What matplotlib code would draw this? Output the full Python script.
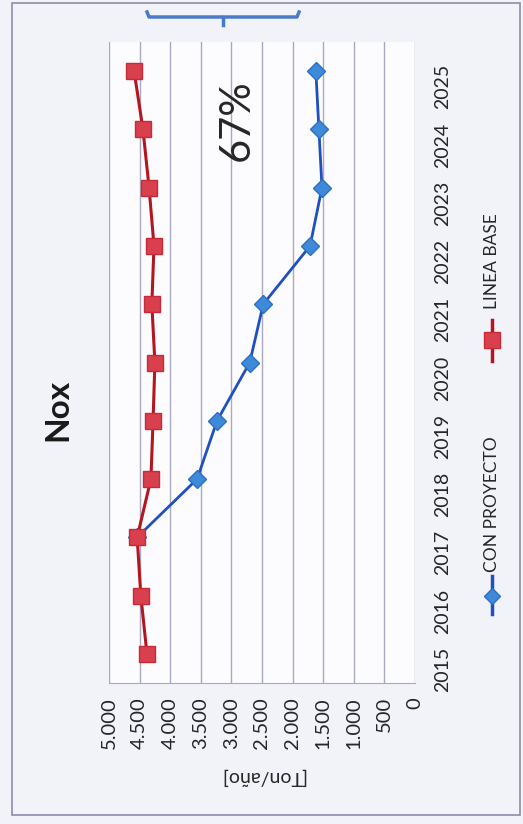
"""
Nox emissions chart (rotated layout): CON PROYECTO vs LINEA BASE
"""

from matplotlib import pyplot as plt
from matplotlib.lines import Line2D
from matplotlib.patches import Rectangle
from matplotlib.ticker import FuncFormatter, MultipleLocator
import numpy as np

plt.rcParams['font.family'] = ['Lato', 'DejaVu Sans']

years = [2015, 2016, 2017, 2018, 2019, 2020, 2021, 2022, 2023, 2024, 2025]
con_proyecto = [np.nan, np.nan, 4540, 3560, 3235, 2700, 2480, 1715, 1520, 1570, 1620]
linea_base = [4380, 4480, 4540, 4315, 4280, 4250, 4300, 4265, 4345, 4445, 4590]
reduccion = '67%'

W, H = 523, 824
fig = plt.figure(figsize=(W / 100, H / 100), dpi=100, facecolor='#f2f3f9')

# chart is drawn turned on its side: values run right-to-left, years bottom-to-top
ax = fig.add_axes([109 / W, 141 / H, 306 / W, 641 / H], facecolor='#fcfcfe')
idx = np.arange(len(years))

ax.plot(linea_base, idx, color='#b3161f', lw=2.2, marker='s', markersize=12,
        markerfacecolor='#d8404e', markeredgecolor='#c82a38', label='LINEA BASE', zorder=3)
ax.plot(con_proyecto, idx, color='#1f4fc0', lw=2, marker='D', markersize=9,
        markerfacecolor='#3c8ad8', markeredgecolor='#2f6fc8', label='CON PROYECTO', zorder=2)

ax.set_xlim(5000, 0)
ax.set_ylim(-0.5, len(years) - 0.5)
ax.xaxis.set_major_locator(MultipleLocator(500))
ax.xaxis.set_major_formatter(FuncFormatter(lambda v, p: '{:,.0f}'.format(v).replace(',', '.')))
ax.grid(axis='x', color='#a8a8c0', lw=1)
ax.set_axisbelow(True)

ax.set_yticks(idx)
ax.set_yticklabels([str(y) for y in years])
ax.yaxis.tick_right()
ax.tick_params(axis='both', length=0, colors='#262626')
ax.tick_params(axis='x', labelrotation=90, pad=10, labelsize=14.5)
ax.tick_params(axis='y', labelrotation=90, pad=14, labelsize=14)

for s in ['top', 'left', 'right']:
    ax.spines[s].set_visible(False)
ax.spines['bottom'].set_color('#a8a8c0')

ax.set_xlabel('[Ton/año]', rotation=180, fontsize=14, color='#262626', labelpad=14)

# title and percentage
fig.text(58 / W, 1 - 410 / H, 'Nox', rotation=90, fontsize=24, fontweight='bold',
         ha='center', va='center', color='#1a1a1a')
fig.text(237 / W, 1 - 120 / H, reduccion, rotation=90, fontsize=30,
         ha='center', va='center', color='#262626')

# bracket above the plot
bx = np.array([147, 149, 297, 299]) / W
by = 1 - np.array([12, 17, 17, 12]) / H
fig.add_artist(Line2D(bx, by, color='#4a7bc8', lw=2.5))
fig.add_artist(Line2D([223 / W, 223 / W], [1 - 17 / H, 1 - 25 / H], color='#4a7bc8', lw=2.5))

# legend, turned like the rest of the chart
lx = 492 / W
fig.add_artist(Line2D([lx, lx], [1 - 576 / H, 1 - 614 / H], color='#1f4fc0', lw=2.5))
fig.add_artist(Line2D([lx], [1 - 596 / H], color='#1f4fc0', marker='D', markersize=8,
                      markerfacecolor='#3c8ad8', markeredgecolor='#2f6fc8'))
fig.text(lx, 1 - 504 / H, 'CON PROYECTO', rotation=90, fontsize=12.5,
         ha='center', va='center', color='#262626')
fig.add_artist(Line2D([lx, lx], [1 - 320 / H, 1 - 361 / H], color='#b3161f', lw=2.5))
fig.add_artist(Line2D([lx], [1 - 340 / H], color='#b3161f', marker='s', markersize=11,
                      markerfacecolor='#d8404e', markeredgecolor='#c82a38'))
fig.text(lx, 1 - 261 / H, 'LINEA BASE', rotation=90, fontsize=12.5,
         ha='center', va='center', color='#262626')

# outer frame
fig.add_artist(Rectangle((12 / W, 1 - 815 / H), 508 / W, 812 / H, fill=False,
                         edgecolor='#8c8ca8', lw=1.2))

fig.savefig('out.png', dpi=100, facecolor=fig.get_facecolor())
